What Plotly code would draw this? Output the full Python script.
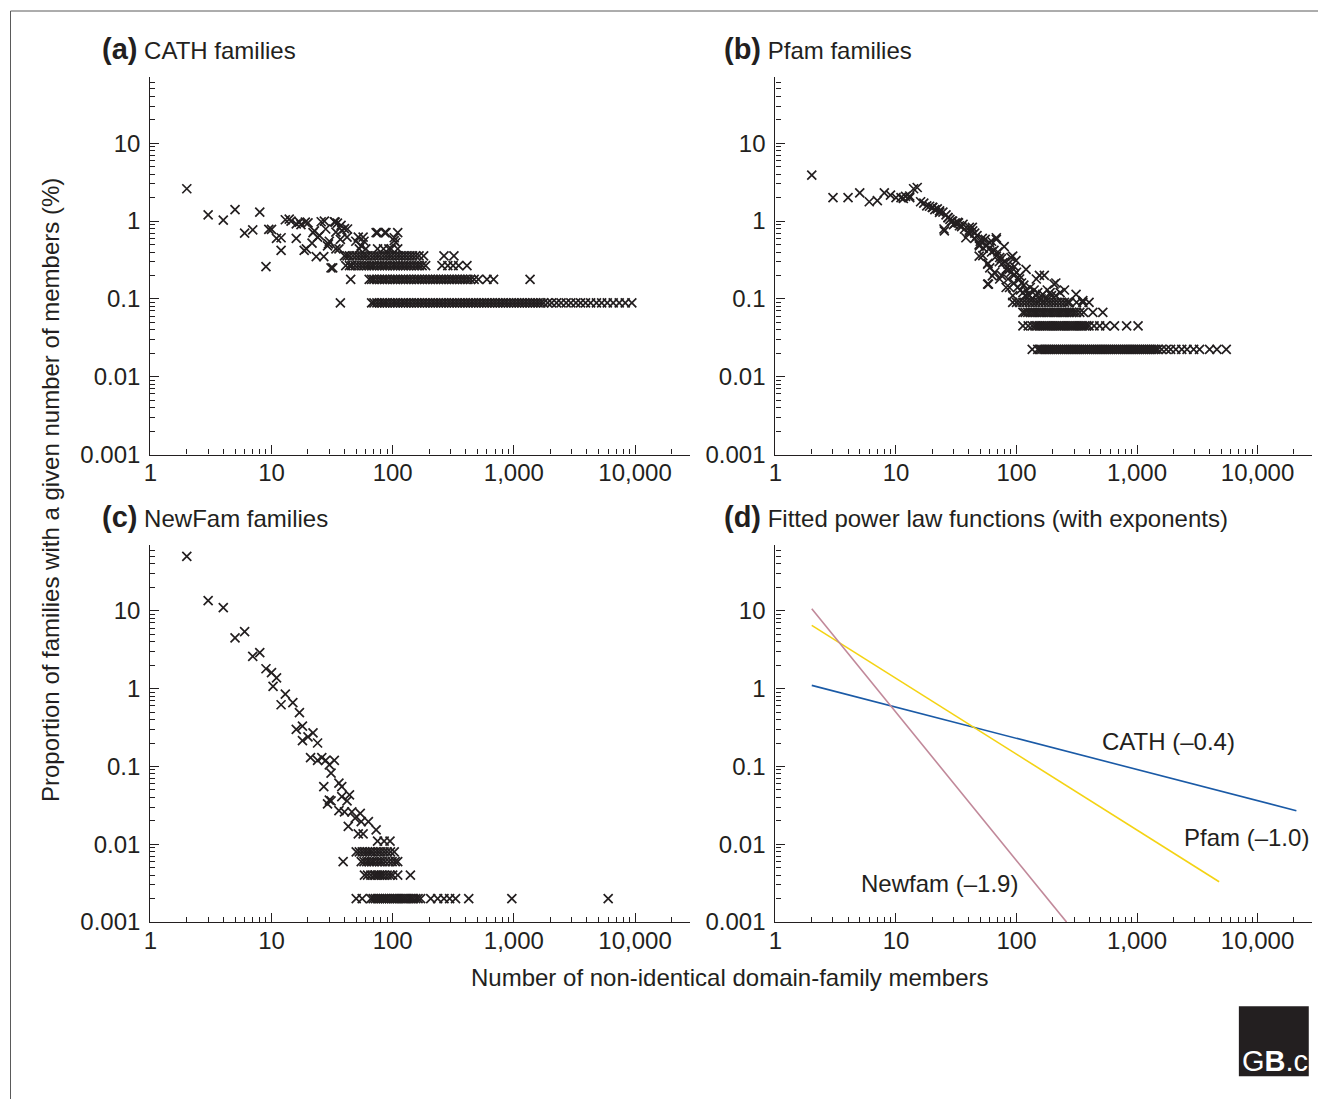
import plotly.graph_objects as go

# ---------------- DATA ----------------
# (a) CATH families: scattered points (members, % of families)
cath_points = [(2, 2.6), (3, 1.2), (4, 1.03), (5, 1.4), (6, 0.7), (7, 0.77), (8, 1.3), (9, 0.26),
               (9.5, 0.78), (10, 0.78), (11, 0.6), (12, 0.42), (12, 0.61), (13, 1.04), (14, 1.06),
               (14.5, 1.0), (16, 0.92), (16, 0.6), (17, 0.97), (17.5, 0.9), (18.6, 0.42), (19, 0.97),
               (20, 0.95), (19.4, 0.44), (21.6, 0.52), (22, 0.71), (22.6, 0.75), (23.4, 0.35), (24, 0.62),
               (24.9, 0.65), (25.7, 0.98), (27, 0.35), (27.3, 1.0), (28, 0.79), (29, 0.48), (29.5, 0.51),
               (30, 0.55), (31, 0.25), (32, 0.25), (33, 0.98), (33.5, 0.97), (34, 0.72), (34, 0.44),
               (35, 0.94), (36, 0.44), (37, 0.58), (37.5, 0.88), (38, 0.76), (40, 0.8), (42, 0.62),
               (42.4, 0.79), (49.6, 0.55), (52, 0.62), (55, 0.48), (57, 0.62), (58, 0.55), (60, 0.44),
               (73, 0.71), (75, 0.71), (86, 0.71), (88, 0.71), (103, 0.56), (103, 0.61), (106, 0.53),
               (75, 0.44), (84, 0.44), (97, 0.44), (110, 0.44), (110, 0.71), (53, 0.44), (93, 0.44)]
# CATH discrete levels (1, 2, 3, 4 families) and the member counts found at each level
cath_levels = [0.089, 0.178, 0.267, 0.357]
cath_row1_x = [37, 67, 70, 74, 78, 82, 86, 90, 95, 100, 105, 110, 116, 122, 128, 135, 142, 150, 158,
               166, 175, 184, 194, 204, 215, 226, 238, 250, 263, 277, 292, 307, 323, 340, 358, 377,
               397, 418, 440, 463, 487, 513, 540, 568, 598, 630, 663, 698, 735, 774, 815, 858, 903,
               950, 1000, 1053, 1108, 1166, 1227, 1292, 1360, 1432, 1507, 1586, 1670, 1760, 1900,
               2050, 2250, 2450, 2700, 2950, 3250, 3550, 3900, 4300, 4800, 5300, 5900, 6600, 7400,
               8300, 9400]
cath_row2_x = [45, 64, 67, 70, 74, 78, 82, 86, 90, 95, 100, 105, 110, 116, 122, 128, 135, 142, 150,
               158, 166, 175, 184, 194, 204, 215, 226, 238, 250, 263, 277, 292, 307, 323, 340, 358,
               377, 397, 418, 440, 470, 510, 600, 680, 1360]
cath_row3_x = [41, 44, 46, 49, 52, 55, 58, 61, 64, 67, 70, 74, 78, 82, 86, 90, 95, 100, 105, 110,
               116, 122, 128, 135, 142, 150, 158, 166, 175, 187, 255, 285, 315, 350, 410]
cath_row4_x = [40, 42, 44, 47, 50, 53, 56, 59, 62, 66, 70, 74, 78, 83, 88, 93, 98, 104, 110, 116,
               123, 130, 138, 146, 155, 165, 180, 265, 320]

# (b) Pfam families
pfam_points = [(2, 3.9), (3, 2.0), (4, 2.0), (5, 2.3), (6, 1.77), (7, 1.83), (8, 2.3), (9, 2.15),
               (10, 2.0), (11, 2.0), (12, 2.07), (13, 2.0), (14, 2.6), (15, 2.7), (16, 1.77), (18, 1.57),
               (20, 1.5), (22, 1.43), (24.5, 1.3), (27, 1.11), (29, 1.0), (33.6, 0.87), (37, 0.79),
               (25, 0.79), (40.6, 0.76), (43, 0.83), (38, 0.61), (49, 0.5), (56, 0.49), (68, 0.58),
               (79, 0.47), (49, 0.355), (58, 0.286), (58.5, 0.155), (68, 0.355), (63, 0.197), (77, 0.29),
               (93, 0.355), (87, 0.24), (96, 0.26), (82, 0.14), (106, 0.197), (113, 0.12),
               (20.2, 1.5), (23, 1.29), (27, 1.11), (29.5, 1.0), (32.5, 0.96), (36, 0.91), (40.6, 0.83),
               (43.3, 0.75), (25.2, 0.75), (49.2, 0.48), (56, 0.48), (59.7, 0.53), (68, 0.61),
               (52.5, 0.36), (57.6, 0.28), (72.5, 0.34), (82, 0.24), (90, 0.34), (99, 0.31), (120, 0.24),
               (57.6, 0.155), (72.5, 0.18), (87.5, 0.14), (106, 0.18), (146, 0.18), (170, 0.2),
               (212, 0.16), (128, 0.11), (165, 0.114), (212, 0.11), (312, 0.114), (355, 0.095),
               (93, 0.11), (155, 0.2), (205, 0.155),
               (13, 2.1), (11.5, 1.95), (17, 1.7), (19, 1.55), (21, 1.4), (23, 1.35), (26, 1.2),
               (28, 1.05), (31, 0.95), (33, 0.95), (35, 0.85), (45, 0.7), (47, 0.65), (52, 0.6),
               (55, 0.58), (62, 0.55), (40, 0.7), (30, 0.9), (45, 0.6), (50, 0.55), (53, 0.45),
               (60, 0.45), (62, 0.4), (65, 0.42), (70, 0.4), (72, 0.3), (75, 0.33), (80, 0.3),
               (85, 0.28), (90, 0.22), (95, 0.2), (100, 0.22), (110, 0.16), (115, 0.15), (120, 0.13),
               (130, 0.14), (140, 0.13), (150, 0.12), (180, 0.13), (190, 0.12), (230, 0.12),
               (250, 0.13), (60, 0.25), (66, 0.22), (75, 0.2), (85, 0.18), (95, 0.16), (102, 0.14),
               (108, 0.13), (118, 0.11), (125, 0.115), (135, 0.1), (145, 0.11), (160, 0.1),
               (175, 0.1), (195, 0.11)]
pfam_levels = [0.0225, 0.045, 0.067, 0.09]
pfam_row1_x = [135, 150, 156, 162, 169, 176, 183, 190, 198, 206, 214, 223, 232, 241, 251, 261, 272,
               283, 294, 306, 318, 331, 345, 359, 373, 388, 404, 420, 437, 455, 473, 492, 512, 533,
               554, 577, 600, 624, 650, 676, 703, 731, 761, 792, 824, 857, 892, 928, 965, 1004, 1045,
               1087, 1131, 1177, 1224, 1274, 1325, 1379, 1434, 1492, 1600, 1750, 1900, 2100, 2350,
               2600, 2950, 3300, 4000, 4600, 5500]
pfam_row2_x = [113, 125, 135, 142, 148, 154, 160, 167, 174, 181, 189, 197, 205, 214, 223, 232, 242,
               252, 263, 274, 286, 298, 311, 324, 338, 352, 367, 383, 400, 440, 490, 550, 650, 820, 1020]
pfam_row3_x = [113, 118, 124, 130, 136, 142, 148, 155, 162, 169, 177, 185, 193, 202, 211, 220, 230,
               240, 251, 262, 274, 286, 300, 315, 335, 360, 430, 520]
pfam_row4_x = [93, 100, 106, 113, 120, 128, 136, 144, 153, 163, 173, 184, 196, 208, 221, 235, 250,
               265, 275, 315, 355, 400]

# (c) NewFam families
newfam_points = [(2, 50), (3, 13.5), (4, 11), (5, 4.5), (6, 5.4), (7, 2.6), (8, 2.9), (9, 1.8),
                 (10, 1.6), (11, 1.37), (10.3, 1.07), (13, 0.85), (12, 0.62), (15, 0.66), (17, 0.49),
                 (16, 0.3), (18, 0.33), (18, 0.215), (20, 0.24), (22, 0.27), (24, 0.2), (21, 0.13),
                 (24, 0.12), (26, 0.13), (28, 0.12), (33, 0.12), (30, 0.105), (31, 0.082), (27, 0.055),
                 (36, 0.061), (38, 0.055), (30, 0.037), (31, 0.036), (29, 0.033), (38, 0.041),
                 (42, 0.036), (44, 0.043), (36, 0.027), (40, 0.026), (46, 0.026), (54, 0.025),
                 (63, 0.0195), (73, 0.0153), (43, 0.017), (49, 0.0216), (55, 0.0195), (52, 0.0136),
                 (57, 0.0136), (75, 0.011), (85, 0.011), (95, 0.011)]
newfam_levels = [0.002, 0.004, 0.006, 0.008]
newfam_row1_x = [50, 56, 66, 69, 72, 75, 78, 81, 84, 87, 90, 94, 98, 102, 106, 110, 115, 120, 125,
                 130, 136, 142, 148, 155, 162, 170, 206, 235, 265, 295, 330, 424, 962, 6000]
newfam_row2_x = [58.5, 62, 66, 70, 72, 75, 78, 81, 85, 90, 95, 100, 110, 140]
newfam_row3_x = [39, 55, 58, 61, 64, 67, 70, 74, 78, 82, 87, 93, 99, 105, 110]
newfam_row4_x = [50, 53, 56, 59, 62, 65, 68, 72, 76, 80, 85, 90, 96, 103]

# (d) fitted power laws: end points of each fitted line
cath_fit_x, cath_fit_y = [2, 21000], [1.1, 0.027]
pfam_fit_x, pfam_fit_y = [2, 4800], [6.5, 0.0033]
newfam_fit_x, newfam_fit_y = [2, 260], [10.6, 0.001]

x_tick_vals = [1, 10, 100, 1000, 10000]
y_tick_vals = [0.001, 0.01, 0.1, 1, 10]

# ---------------- FIGURE ----------------
# figure size; page placement is calibrated so that positions below are screen pixels
W, H = 1314, 1099
SX, OX = 0.996, 14.5
SY, OY = 0.987, 9.0
INK = "#231f20"
FONT = "Liberation Sans, Arial, Helvetica, sans-serif"

fig = go.Figure()


def add_panel(points, levels, rows, xa, ya):
    xs = [p[0] for p in points]
    ys = [p[1] for p in points]
    for lvl, row in zip(levels, rows):
        xs += row
        ys += [lvl] * len(row)
    fig.add_trace(go.Scatter(
        x=xs, y=ys, mode="markers", xaxis=xa, yaxis=ya, showlegend=False,
        marker=dict(symbol="x-thin", size=9, line=dict(width=1.7, color=INK), color=INK)))


add_panel(cath_points, cath_levels, [cath_row1_x, cath_row2_x, cath_row3_x, cath_row4_x], "x", "y")
add_panel(pfam_points, pfam_levels, [pfam_row1_x, pfam_row2_x, pfam_row3_x, pfam_row4_x], "x2", "y2")
add_panel(newfam_points, newfam_levels, [newfam_row1_x, newfam_row2_x, newfam_row3_x, newfam_row4_x], "x3", "y3")

for fx, fy, col in [(cath_fit_x, cath_fit_y, "#1a5aa6"),
                    (pfam_fit_x, pfam_fit_y, "#f4d313"),
                    (newfam_fit_x, newfam_fit_y, "#c1899a")]:
    fig.add_trace(go.Scatter(x=fx, y=fy, mode="lines", xaxis="x4", yaxis="y4", showlegend=False,
                             line=dict(color=col, width=1.6)))


def px(x):
    return ((x - OX) / SX) / W


def py(y):
    return 1 - ((y - OY) / SY) / H


common = dict(type="log", showgrid=False, zeroline=False, showline=True, linecolor=INK,
              linewidth=1.3, ticks="inside", ticklen=9, tickwidth=1.3, tickcolor=INK,
              minor=dict(ticks="inside", ticklen=5, tickwidth=1, tickcolor=INK, dtick="D1",
                         showgrid=False),
              tickfont=dict(family=FONT, size=24, color=INK))

left_dom = [px(150), px(690)]
right_dom = [px(776), px(1313)]
top_dom = [py(455), py(78)]
bot_dom = [py(922), py(545)]

layout = dict(width=W, height=H, autosize=False, margin=dict(l=0, r=0, t=0, b=0),
              paper_bgcolor="white", plot_bgcolor="white", font=dict(family=FONT, color=INK))
for i, (xd, yd) in enumerate([(left_dom, top_dom), (right_dom, top_dom),
                              (left_dom, bot_dom), (right_dom, bot_dom)], start=1):
    sfx = "" if i == 1 else str(i)
    layout["xaxis" + sfx] = dict(common, domain=xd, range=[0, 4.45], anchor="y" + sfx,
                                 tickvals=x_tick_vals, tickformat=",d", ticklabelstandoff=-3)
    layout["yaxis" + sfx] = dict(common, domain=yd, range=[-3, 1.85], anchor="x" + sfx,
                                 tickvals=y_tick_vals, tickformat="~g", ticklabelstandoff=4)
fig.update_layout(**layout)

ann = []
titles = [("(a)", "CATH families", 100, 50), ("(b)", "Pfam families", 722, 50),
          ("(c)", "NewFam families", 100, 517),
          ("(d)", "Fitted power law functions (with exponents)", 722, 517)]
for tag, name, x, y in titles:
    ann.append(dict(text='<span style="font-size:29px"><b>%s</b></span> %s' % (tag, name),
                    x=px(x), y=py(y), xref="paper", yref="paper", xanchor="left", yanchor="middle",
                    showarrow=False, font=dict(family=FONT, size=24, color=INK)))

ann.append(dict(text="Number of non-identical domain-family members", x=px(730), y=py(977),
                xref="paper", yref="paper", xanchor="center", yanchor="middle", showarrow=False,
                font=dict(family=FONT, size=24, color=INK)))
ann.append(dict(text="Proportion of families with a given number of members (%)", x=px(50),
                y=py(490), xref="paper", yref="paper", xanchor="center", yanchor="middle",
                showarrow=False, textangle=-90, font=dict(family=FONT, size=24, color=INK)))

for txt, x, y in [("CATH (\u20130.4)", 1170, 742), ("Pfam (\u20131.0)", 1248, 838),
                  ("Newfam (\u20131.9)", 940, 883)]:
    ann.append(dict(text=txt, x=px(x), y=py(y), xref="paper", yref="paper", xanchor="center",
                    yanchor="middle", showarrow=False, font=dict(family=FONT, size=24, color=INK)))

# GB.c logo text
ann.append(dict(text='G<b>B</b>.c', x=px(1311), y=py(1061), xref="paper", yref="paper",
                xanchor="right", yanchor="middle", showarrow=False,
                font=dict(family=FONT, size=29, color="white")))
fig.update_layout(annotations=ann)

fig.add_shape(type="rect", xref="paper", yref="paper", x0=px(10), x1=1.2, y0=-0.2, y1=py(12),
              line=dict(color="#5a5a5a", width=1), fillcolor="rgba(0,0,0,0)", layer="below")
fig.add_shape(type="rect", xref="paper", yref="paper", x0=px(1240), x1=px(1310), y0=py(1076),
              y1=py(1006), line=dict(width=0), fillcolor=INK, layer="below")

fig.write_html("out.html")
